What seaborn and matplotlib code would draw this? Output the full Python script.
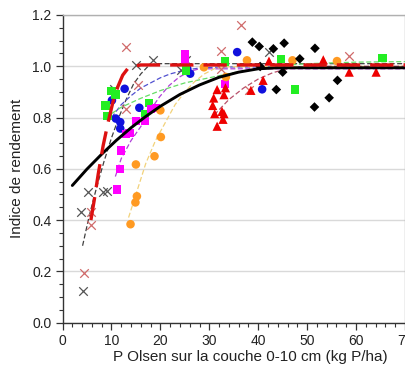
import numpy as np
import pandas as pd
import seaborn as sns
import matplotlib
matplotlib.use("Agg")
import matplotlib.pyplot as plt
from matplotlib.ticker import MultipleLocator

# --- observed points, one list pair per site/series ---
gray_x_x = [4.2, 3.7, 5.2, 8.3, 9.0, 10.6, 15.0, 18.4, 24.2, 25.2, 42.3]
gray_x_y = [0.125, 0.432, 0.51, 0.508, 0.514, 0.912, 1.003, 1.023, 0.984, 1.023, 1.055]

pink_x_x = [4.3, 5.8, 5.8, 12.9, 15.4, 13.0, 32.4, 32.4, 36.5, 38.2, 58.5]
pink_x_y = [0.192, 0.432, 0.38, 1.074, 0.925, 0.834, 1.059, 0.988, 1.159, 0.906, 1.038]

blue_x = [12.7, 10.1, 10.9, 11.8, 11.8, 15.7, 25.5, 26.1, 35.7, 40.8]
blue_y = [0.912, 0.867, 0.796, 0.782, 0.757, 0.838, 0.99, 0.971, 1.055, 0.91]

green_x = [8.8, 9.2, 10.0, 10.8, 17.7, 16.9, 25.2, 33.2, 44.6, 47.5, 65.4]
green_y = [0.847, 0.806, 0.903, 0.89, 0.856, 0.812, 0.984, 1.019, 1.029, 0.909, 1.033]

magenta_x = [11.1, 11.7, 11.9, 13.0, 13.7, 15.0, 16.9, 18.1, 19.1, 25.1, 25.1, 33.2]
magenta_y = [0.519, 0.60, 0.672, 0.737, 0.74, 0.786, 0.786, 0.833, 0.838, 1.049, 1.025, 0.932]

orange_x = [13.9, 14.9, 15.2, 15.0, 18.8, 20.1, 20.0, 28.9, 33.4, 37.7, 47.0, 56.1]
orange_y = [0.384, 0.469, 0.493, 0.617, 0.649, 0.724, 0.828, 0.996, 0.958, 1.023, 1.023, 1.02]

red_x = [31.6, 33.3, 30.9, 33.0, 30.7, 31.1, 32.6, 33.0, 32.8, 31.6, 38.5, 41.0, 42.2, 53.3, 58.6, 64.1]
red_y = [0.909, 0.916, 0.876, 0.889, 0.847, 0.815, 0.824, 0.815, 0.793, 0.766, 0.906, 0.945, 1.02, 1.025, 0.977, 0.977]

black_x = [38.8, 40.2, 43.1, 45.3, 48.5, 51.6, 40.4, 45.0, 43.7, 56.2, 54.5, 51.5]
black_y = [1.094, 1.077, 1.068, 1.09, 1.029, 1.07, 0.999, 0.977, 0.909, 0.945, 0.877, 0.841]

# --- response curves ---
all_fit_x = [2, 5, 8, 11, 14, 17, 20, 24, 28, 32, 36, 40, 44, 70]
all_fit_y = [0.535, 0.599, 0.657, 0.711, 0.760, 0.804, 0.844, 0.890, 0.927, 0.957, 0.977, 0.990, 0.994, 0.994]

red_fit_x = [5.8, 6.5, 7.3, 8.3, 9.3, 10.3, 11.3, 12.3, 13.3, 14.5, 16, 70]
red_fit_y = [0.40, 0.48, 0.58, 0.69, 0.78, 0.86, 0.92, 0.965, 0.99, 1.0, 1.005, 1.005]

gray_fit_x = [4.1, 5.5, 7, 8.5, 10, 11.5, 13, 14.5, 16, 17.5, 19, 70]
gray_fit_y = [0.30, 0.42, 0.53, 0.63, 0.72, 0.80, 0.87, 0.93, 0.97, 1.0, 1.01, 1.01]

blue_fit_x = [10, 12, 14, 16, 18, 20, 22, 25, 28, 32, 70]
blue_fit_y = [0.80, 0.85, 0.885, 0.915, 0.935, 0.955, 0.97, 0.985, 0.993, 0.997, 0.997]

magenta_fit_x = [10.8, 12, 14, 16.4, 18, 19.8, 21.8, 23.8, 26, 28, 70]
magenta_fit_y = [0.57, 0.64, 0.71, 0.776, 0.83, 0.88, 0.925, 0.957, 0.98, 0.99, 0.99]

green_fit_x = [8.8, 12, 16, 20, 25, 30, 35, 40, 45, 50, 60, 70]
green_fit_y = [0.80, 0.84, 0.875, 0.905, 0.935, 0.955, 0.975, 0.99, 1.003, 1.01, 1.016, 1.018]

orange_fit_x = [13.5, 15, 17, 19, 21, 23, 25, 27, 29, 31, 33, 70]
orange_fit_y = [0.41, 0.50, 0.62, 0.71, 0.78, 0.85, 0.90, 0.94, 0.97, 0.99, 0.998, 1.0]

redtri_fit_x = [31, 34, 37, 40, 43, 46, 50, 70]
redtri_fit_y = [0.81, 0.87, 0.915, 0.95, 0.975, 0.99, 1.0, 1.0]

sns.set_style("white")
plt.rcParams['font.family'] = ['Liberation Sans', 'DejaVu Sans']

fig = plt.figure(figsize=(4.06, 3.69), dpi=100)
ax = fig.add_axes([0.154, 0.1255, 0.8435, 0.834])

# thin site curves
thin = [
    (gray_fit_x, gray_fit_y, '#404040'),
    (blue_fit_x, blue_fit_y, '#5050d0'),
    (magenta_fit_x, magenta_fit_y, '#b040d8'),
    (green_fit_x, green_fit_y, '#66dd66'),
    (orange_fit_x, orange_fit_y, '#f2d27a'),
    (redtri_fit_x, redtri_fit_y, '#b8506a'),
]
for fx, fy, c in thin:
    sns.lineplot(x=fx, y=fy, ax=ax, color=c, lw=0.9, sort=False,
                 estimator=None, linestyle=(0, (4, 2)), zorder=2)

# overall curves
sns.lineplot(x=all_fit_x, y=all_fit_y, ax=ax, color='black', lw=2.1,
             sort=False, estimator=None, zorder=4)
sns.lineplot(x=red_fit_x, y=red_fit_y, ax=ax, color='#dd1111', lw=2.4,
             sort=False, estimator=None, linestyle=(0, (7, 3)), zorder=4)

# points
pts = [
    (gray_x_x, gray_x_y, 'x', '#555555', 38),
    (pink_x_x, pink_x_y, 'x', '#d06a6a', 38),
    (blue_x, blue_y, 'o', '#1010dd', 38),
    (green_x, green_y, 's', '#22ee22', 36),
    (magenta_x, magenta_y, 's', '#ff00ff', 36),
    (orange_x, orange_y, 'o', '#ff9a22', 38),
    (red_x, red_y, '^', '#ee0000', 44),
    (black_x, black_y, 'D', 'black', 24),
]
for px, py, m, c, s in pts:
    if m == 'x':
        sns.scatterplot(x=px, y=py, ax=ax, marker=m, color=c, s=s,
                        linewidth=0.9, zorder=3)
    else:
        sns.scatterplot(x=px, y=py, ax=ax, marker=m, color=c, s=s,
                        edgecolor='none', zorder=3)

ax.set_xlim(0, 70)
ax.set_ylim(0, 1.2)
ax.xaxis.set_major_locator(MultipleLocator(10))
ax.xaxis.set_minor_locator(MultipleLocator(2))
ax.yaxis.set_major_locator(MultipleLocator(0.2))
ax.yaxis.set_minor_locator(MultipleLocator(0.05))
ax.yaxis.set_major_formatter(plt.FuncFormatter(lambda v, p: f"{v:.1f}"))
ax.grid(axis='y', which='major', color='#d9d9d9', lw=1.0, zorder=0)
ax.set_axisbelow(True)

for side in ['left', 'bottom']:
    ax.spines[side].set_color('#333333')
    ax.spines[side].set_linewidth(1.0)
for side in ['top', 'right']:
    ax.spines[side].set_color('#b0b0b0')
    ax.spines[side].set_linewidth(1.0)

ax.tick_params(which='major', direction='out', length=5, width=0.9,
               color='#333333', labelsize=10, labelcolor='#222222',
               left=True, bottom=True, pad=3)
ax.tick_params(which='minor', direction='out', length=3, width=0.8,
               color='#333333', left=True, bottom=True)

ax.set_xlabel("P Olsen sur la couche 0-10 cm (kg P/ha)", fontsize=11,
              color='#222222', va='center')
ax.xaxis.set_label_coords(0.547, -0.111)
ax.set_ylabel("Indice de rendement", fontsize=11, color='#222222',
              labelpad=6)

fig.savefig("out.png", dpi=100)
